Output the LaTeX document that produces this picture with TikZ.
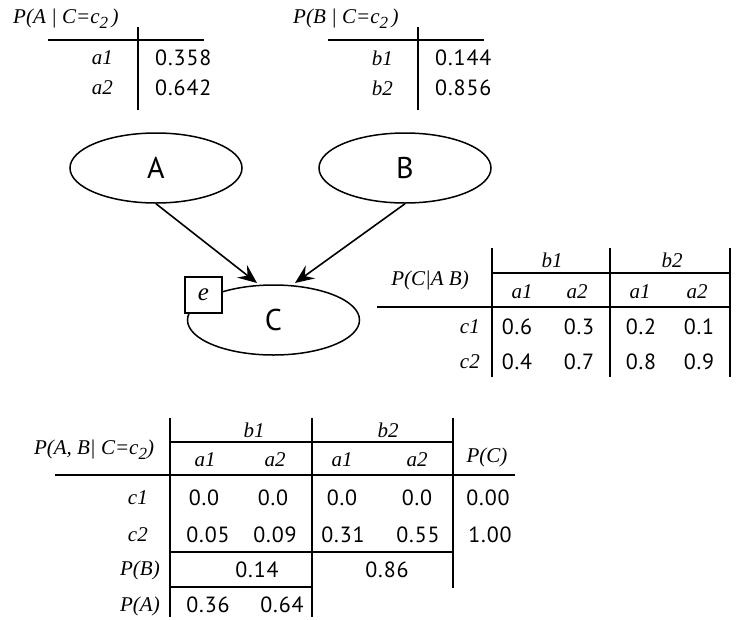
\documentclass[tikz,border=0pt]{standalone}
\usepackage{fontspec}
\setmainfont{Liberation Serif}
\newfontfamily\numf[LetterSpace=4]{PT Sans}
\newfontfamily\bigf{PT Sans}
\usetikzlibrary{shapes.geometric,arrows.meta}
\newcommand\lowsub[1]{\raisebox{-5pt}{\fontsize{17}{17}\selectfont #1}}
\begin{document}
\begin{tikzpicture}[x=1pt,y=-1pt,
 lab/.style={inner sep=0pt,font=\fontsize{21}{24}\selectfont\itshape},
 num/.style={inner sep=0pt,font=\fontsize{22}{24}\numf},
 rule/.style={line width=1.8pt},
 var/.style={draw,ellipse,line width=1.5pt,minimum width=172pt,minimum height=70pt,inner sep=0pt,font=\fontsize{30}{30}\bigf},
 arr/.style={line width=1.6pt,-{Stealth[length=19pt,width=16pt,inset=7pt]}}]
\useasboundingbox (0,0) rectangle (736,619);
% Table 1
\node[lab,anchor=west] (t1title) at (13,19) {P(A | C=c\lowsub{2}\,)};
\draw[rule] (48,40) -- (204,40);
\draw[rule] (138,27) -- (138,110);
\node[lab,anchor=east] (t1a1) at (113,58) {a1};
\node[lab,anchor=east] (t1a2) at (113,88) {a2};
\node[num,anchor=west] (t1v1) at (155,58) {0.358};
\node[num,anchor=west] (t1v2) at (155,88) {0.642};
% Table 2
\node[lab,anchor=west] (t2title) at (293,19) {P(B | C=c\lowsub{2}\,)};
\draw[rule] (328,40) -- (484,40);
\draw[rule] (418,27) -- (418,110);
\node[lab,anchor=east] (t2b1) at (393,58) {b1};
\node[lab,anchor=east] (t2b2) at (393,88) {b2};
\node[num,anchor=west] (t2v1) at (435,58) {0.144};
\node[num,anchor=west] (t2v2) at (435,88) {0.856};
% Graph
\node[var] (A) at (156,168) {A};
\node[var] (B) at (405,168) {B};
\node[var] (C) at (273.5,320) {C};
\node[draw,fill=white,line width=1.5pt,minimum width=37pt,minimum height=36pt,inner sep=0pt,font=\fontsize{25}{25}\selectfont\itshape] (E) at (203.5,295) {e};
\coordinate (tipA) at (257,283);
\coordinate (tipB) at (295,283);
\draw[arr] (A.south) -- (tipA);
\draw[arr] (B.south) -- (tipB);
% Table 3
\draw[rule] (492,248) -- (492,377);
\draw[rule] (610,248) -- (610,377);
\draw[rule] (730,248) -- (730,377);
\draw[rule] (492,273) -- (730,273);
\draw[rule] (377,307) -- (730,307);
\node[lab] (t3title) at (430,280) {P(C|A B)};
\node[lab] (t3b1) at (552,260) {b1};
\node[lab] (t3b2) at (672,260) {b2};
\node[lab] (t3a1) at (522,292) {a1};
\node[lab] (t3a2) at (577,292) {a2};
\node[lab] (t3a3) at (640,292) {a1};
\node[lab] (t3a4) at (697,292) {a2};
\node[lab,anchor=east] (t3c1) at (480,327) {c1};
\node[lab,anchor=east] (t3c2) at (480,362) {c2};
\node[num] (t3v11) at (517,327) {0.6};
\node[num] (t3v12) at (579,327) {0.3};
\node[num] (t3v13) at (641,327) {0.2};
\node[num] (t3v14) at (699,327) {0.1};
\node[num] (t3v21) at (517,362) {0.4};
\node[num] (t3v22) at (579,362) {0.7};
\node[num] (t3v23) at (641,362) {0.8};
\node[num] (t3v24) at (699,362) {0.9};
% Table 4
\draw[rule] (170,418) -- (170,617);
\draw[rule] (312,418) -- (312,617);
\draw[rule] (453,418) -- (453,588);
\draw[rule] (170,442) -- (453,442);
\draw[rule] (55,475) -- (515,475);
\draw[rule] (170,552) -- (453,552);
\draw[rule] (170,587) -- (312,587);
\node[lab] (t4title) at (94,450) {P(A, B| C=c\lowsub{2})};
\node[lab] (t4pc) at (487,457) {P(C)};
\node[lab] (t4b1) at (254,430) {b1};
\node[lab] (t4b2) at (388,430) {b2};
\node[lab] (t4a1) at (205,460) {a1};
\node[lab] (t4a2) at (275,460) {a2};
\node[lab] (t4a3) at (342,460) {a1};
\node[lab] (t4a4) at (417,460) {a2};
\node[lab,anchor=east] (t4c1) at (148,498) {c1};
\node[lab,anchor=east] (t4c2) at (148,535) {c2};
\node[lab,anchor=east] (t4pb) at (160,570) {P(B)};
\node[lab,anchor=east] (t4pa) at (160,606) {P(A)};
\node[num] (t4v11) at (204,498) {0.0};
\node[num] (t4v12) at (273,498) {0.0};
\node[num] (t4v13) at (342,498) {0.0};
\node[num] (t4v14) at (417,498) {0.0};
\node[num] (t4v15) at (488,498) {0.00};
\node[num] (t4v21) at (208,535) {0.05};
\node[num] (t4v22) at (275,535) {0.09};
\node[num] (t4v23) at (343,535) {0.31};
\node[num] (t4v24) at (418,535) {0.55};
\node[num] (t4v25) at (490,535) {1.00};
\node[num] (t4pb1) at (257,570) {0.14};
\node[num] (t4pb2) at (387,570) {0.86};
\node[num] (t4pa1) at (208,605) {0.36};
\node[num] (t4pa2) at (282,605) {0.64};
\end{tikzpicture}
\end{document}
